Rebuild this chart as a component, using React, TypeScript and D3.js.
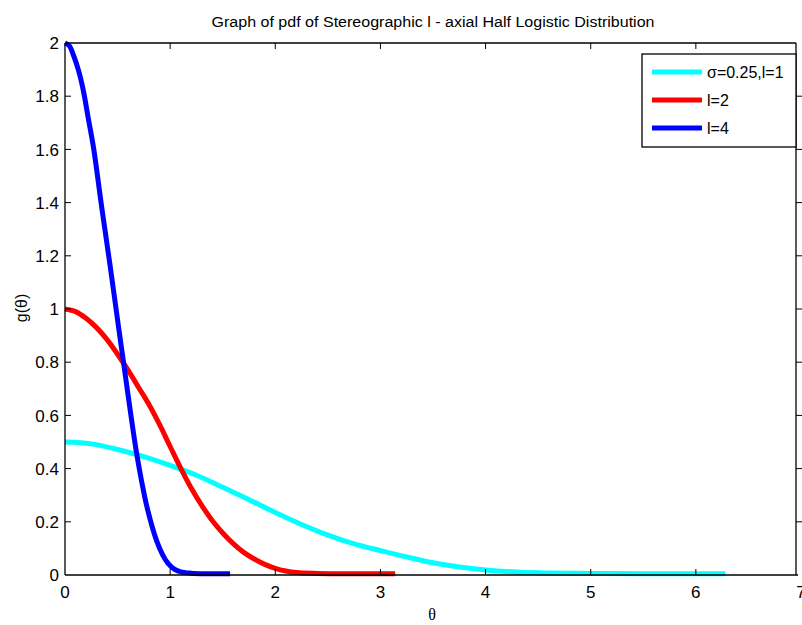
import React from "react";
import * as d3 from "d3";

const xTicks = [0, 1, 2, 3, 4, 5, 6, 7];
const yTicks = [0, 0.2, 0.4, 0.6, 0.8, 1, 1.2, 1.4, 1.6, 1.8, 2];
const yTickLabels = ["0", "0.2", "0.4", "0.6", "0.8", "1", "1.2", "1.4", "1.6", "1.8", "2"];

const seriesNames = ["σ=0.25,l=1", "l=2", "l=4"];
const seriesColors = ["#00FFFF", "#FF0000", "#0000FF"];

const thetaCyan = [0, 0.25, 0.5, 0.75, 1.0, 1.25, 1.5, 1.75, 2.0, 2.25, 2.5, 2.75, 3.0, 3.25, 3.5, 3.75, 4.0, 4.25, 4.5, 5.0, 5.5, 6.28];
const gCyan = [0.5, 0.493, 0.472, 0.445, 0.412, 0.375, 0.33, 0.283, 0.235, 0.19, 0.15, 0.117, 0.092, 0.068, 0.046, 0.03, 0.019, 0.012, 0.008, 0.006, 0.005, 0.005];

const thetaRed = [0, 0.1, 0.2, 0.3, 0.4, 0.5, 0.6, 0.7, 0.8, 0.9, 1.0, 1.1, 1.2, 1.3, 1.4, 1.5, 1.6, 1.7, 1.8, 1.9, 2.0, 2.1, 2.2, 2.4, 2.8, 3.14];
const gRed = [1.0, 0.99, 0.965, 0.93, 0.885, 0.83, 0.77, 0.705, 0.64, 0.565, 0.483, 0.402, 0.327, 0.262, 0.205, 0.158, 0.118, 0.085, 0.06, 0.04, 0.025, 0.015, 0.009, 0.006, 0.005, 0.005];

const thetaBlue = [0, 0.04, 0.08, 0.13, 0.175, 0.22, 0.27, 0.35, 0.43, 0.51, 0.56, 0.62, 0.68, 0.73, 0.78, 0.87, 0.93, 0.98, 1.04, 1.1, 1.2, 1.35, 1.57];
const gBlue = [2.0, 1.99, 1.955, 1.895, 1.82, 1.72, 1.61, 1.38, 1.16, 0.93, 0.79, 0.62, 0.46, 0.35, 0.255, 0.13, 0.075, 0.044, 0.022, 0.012, 0.007, 0.005, 0.005];

const thetas = [thetaCyan, thetaRed, thetaBlue];
const values = [gCyan, gRed, gBlue];

export default function App() {
  const left = 65, top = 43, bottom = 575, right = 796;
  const x = d3.scaleLinear().domain([0, 7]).range([left, 801]);
  const y = d3.scaleLinear().domain([0, 2]).range([bottom, top]);
  const line = d3
    .line<[number, number]>()
    .x((d) => x(d[0]))
    .y((d) => y(d[1]))
    .curve(d3.curveCatmullRom.alpha(0.5));
  const font = "'Liberation Sans', Arial, Helvetica, sans-serif";
  const tick = 6;

  return (
    <svg
      width={802}
      height={625}
      style={{ position: "absolute", left: 0, top: 0, background: "#fff" }}
      fontFamily={font}
    >
      <rect x={0} y={0} width={802} height={625} fill="#fff" />
      <text x={433} y={27} fontSize={15.5} textAnchor="middle" textLength={443} lengthAdjust="spacingAndGlyphs">
        Graph of pdf of Stereographic l - axial Half Logistic Distribution
      </text>

      {/* curves */}
      {values.map((vals, i) => (
        <path
          key={i}
          d={line(thetas[i].map((t, j) => [t, vals[j]] as [number, number])) || ""}
          fill="none"
          stroke={seriesColors[i]}
          strokeWidth={5}
          strokeLinejoin="round"
        />
      ))}

      {/* frame */}
      <line x1={left} y1={top} x2={right} y2={top} stroke="#000" strokeWidth={1.3} />
      <line x1={left} y1={bottom} x2={798} y2={bottom} stroke="#000" strokeWidth={1.3} />
      <line x1={left} y1={top} x2={left} y2={bottom} stroke="#000" strokeWidth={1.3} />
      <line x1={right} y1={top} x2={right} y2={bottom} stroke="#000" strokeWidth={1.3} />

      {/* x ticks */}
      {xTicks.map((t) => (
        <g key={"x" + t}>
          {t > 0 && t < 7 && (
            <>
              <line x1={x(t)} x2={x(t)} y1={bottom} y2={bottom - tick} stroke="#000" />
              <line x1={x(t)} x2={x(t)} y1={top} y2={top + tick} stroke="#000" />
            </>
          )}
          <text x={x(t)} y={598} fontSize={17} textAnchor="middle">
            {t}
          </text>
        </g>
      ))}

      {/* y ticks */}
      {yTicks.map((t, i) => (
        <g key={"y" + t}>
          {t > 0 && t < 2 && (
            <>
              <line x1={left} x2={left + tick} y1={y(t)} y2={y(t)} stroke="#000" />
              <line x1={right} x2={right + tick} y1={y(t)} y2={y(t)} stroke="#000" />
            </>
          )}
          <text x={59} y={y(t)} dy="0.36em" fontSize={17} textAnchor="end">
            {yTickLabels[i]}
          </text>
        </g>
      ))}

      {/* axis labels */}
      <text x={432} y={620} fontSize={16} textAnchor="middle" fontFamily="'Liberation Serif', 'Times New Roman', serif">
        θ
      </text>
      <text
        transform={`translate(27,308) rotate(-90)`}
        fontSize={16}
        textAnchor="middle"
      >
        g(θ)
      </text>

      {/* legend */}
      <rect x={642} y={54} width={154} height={93} fill="#fff" stroke="#000" strokeWidth={1.3} />
      {seriesNames.map((n, i) => (
        <g key={n}>
          <line x1={652} x2={702} y1={72 + i * 28} y2={72 + i * 28} stroke={seriesColors[i]} strokeWidth={5} />
          <text x={707} y={72 + i * 28} dy="0.36em" fontSize={16}>
            {n}
          </text>
        </g>
      ))}
    </svg>
  );
}
